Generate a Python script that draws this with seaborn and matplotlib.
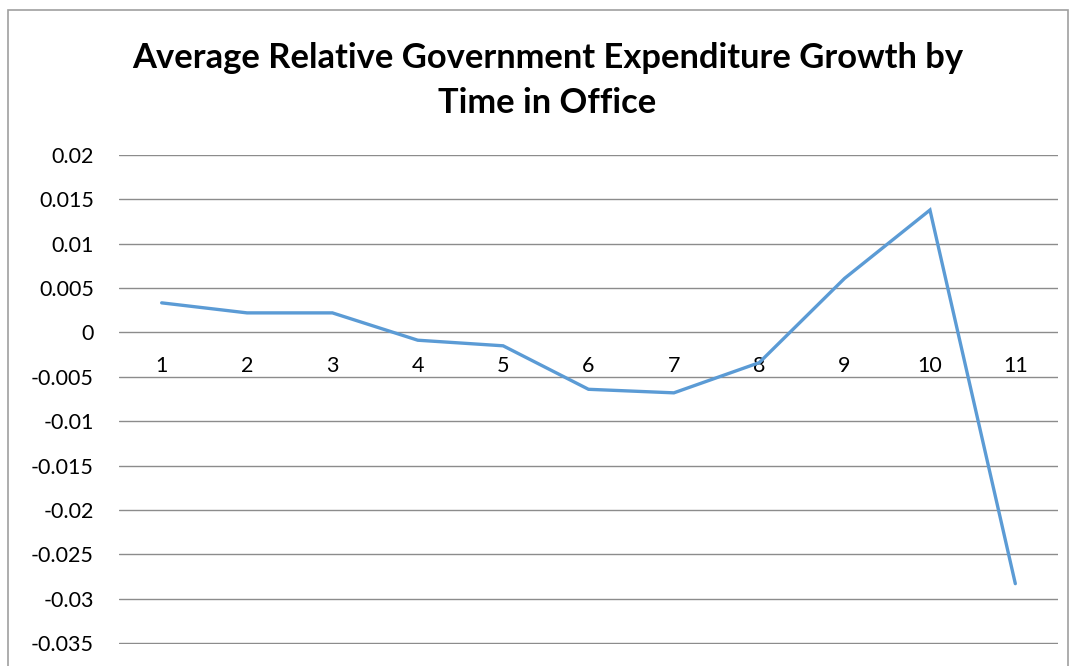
import matplotlib
matplotlib.use("Agg")
import matplotlib.pyplot as plt
import seaborn as sns
import pandas as pd
from matplotlib.patches import Rectangle

# data
periods = [1, 2, 3, 4, 5, 6, 7, 8, 9, 10, 11]
growth = [0.00334, 0.00221, 0.00221, -0.00087, -0.0015, -0.0064,
          -0.0068, -0.0034, 0.0061, 0.0138, -0.0283]
y_ticks = [0.02, 0.015, 0.01, 0.005, 0, -0.005, -0.01, -0.015,
           -0.02, -0.025, -0.03, -0.035]
y_tick_labels = ["0.02", "0.015", "0.01", "0.005", "0", "-0.005", "-0.01",
                 "-0.015", "-0.02", "-0.025", "-0.03", "-0.035"]
title = "Average Relative Government Expenditure Growth by\nTime in Office"

df = pd.DataFrame({"period": periods, "growth": growth})

sns.set_style("white")
plt.rcParams["font.family"] = ["Lato", "DejaVu Sans"]

fig = plt.figure(figsize=(10.74, 6.66), dpi=100)
ax = fig.add_axes([119 / 1074, 1 - 644 / 666, 939 / 1074, 489 / 666])

sns.lineplot(data=df, x="period", y="growth", ax=ax, color="#5B9BD5",
             linewidth=2.4, solid_capstyle="round", solid_joinstyle="miter")

ax.set_xlim(0.5, 11.5)
ax.set_ylim(-0.0351, 0.02)
ax.set_yticks(y_ticks)
ax.set_yticklabels(y_tick_labels)
ax.set_xticks(periods)
ax.set_xticklabels([str(p) for p in periods])
ax.set_xlabel("")
ax.set_ylabel("")

ax.grid(axis="y", color="#8c8c8c", linewidth=1)
ax.grid(axis="x", visible=False)
ax.set_axisbelow(True)
for s in ["top", "right", "left"]:
    ax.spines[s].set_visible(False)
ax.spines["bottom"].set_position(("data", 0))
ax.spines["bottom"].set_visible(False)

ax.tick_params(axis="y", length=0, pad=18, labelsize=15.5, labelcolor="black")
ax.tick_params(axis="x", length=0, pad=17, labelsize=15.5, labelcolor="black")

fig.text(547.5 / 1074, 1 - 42 / 666, title, ha="center", va="top",
         fontsize=24.8, fontweight="bold", linespacing=1.5, color="black")

fig.patches.append(Rectangle((8 / 1074, -0.05), 1060 / 1074, 1.05 - 10.5 / 666,
                             transform=fig.transFigure, fill=False,
                             edgecolor="#a0a0a0", linewidth=1.2))

fig.savefig("out.png", dpi=100)
